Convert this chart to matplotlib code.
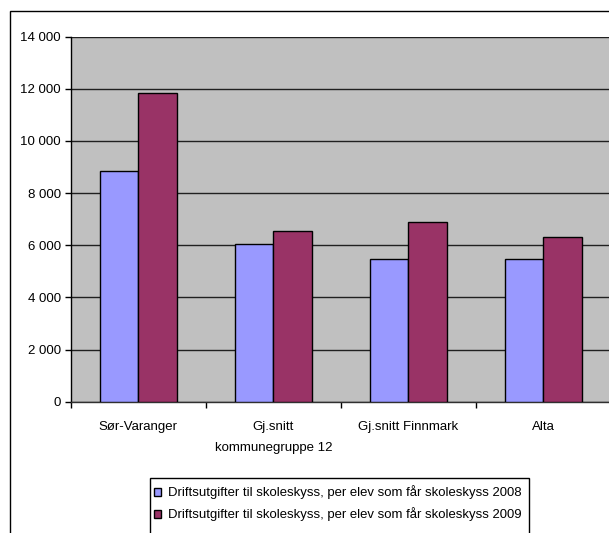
import numpy as np
import matplotlib
matplotlib.use('Agg')
import matplotlib.pyplot as plt
from matplotlib.patches import Rectangle
from matplotlib.ticker import FuncFormatter

plt.rcParams['font.family'] = ['Liberation Sans', 'DejaVu Sans']

# data
categories = ['Sør-Varanger', 'Gj.snitt\nkommunegruppe 12', 'Gj.snitt Finnmark', 'Alta']
vals_2008 = [8850, 6060, 5490, 5480]
vals_2009 = [11850, 6560, 6910, 6320]
series_labels = ['Driftsutgifter til skoleskyss, per elev som får skoleskyss 2008',
                 'Driftsutgifter til skoleskyss, per elev som får skoleskyss 2009']

fig = plt.figure(figsize=(6.09, 5.33), dpi=100)
W, H = 609, 533

# outer chart border (cut off at right/bottom like the original)
border = Rectangle((10 / W, -0.05), 1.1, (H - 11) / H + 0.05, transform=fig.transFigure,
                   fill=False, edgecolor='black', linewidth=1.0, clip_on=False)
fig.patches.append(border)

ax = fig.add_axes([70.8 / W, (H - 401.7) / H, 540 / W, 365 / H])
ax.set_facecolor('#C0C0C0')

x = np.arange(len(categories))
bw = 1 / 3.5
ax.bar(x - bw / 2, vals_2008, bw, color='#9999FF', edgecolor='black', linewidth=1.0,
       label=series_labels[0], zorder=3)
ax.bar(x + bw / 2, vals_2009, bw, color='#993366', edgecolor='black', linewidth=1.0,
       label=series_labels[1], zorder=3)

ax.set_xlim(-0.5, len(categories) - 0.5)
ax.set_ylim(0, 14000)
ax.set_yticks(np.arange(0, 14001, 2000))
ax.yaxis.set_major_formatter(FuncFormatter(lambda v, p: f'{int(v):,}'.replace(',', ' ')))
ax.grid(axis='y', color='#202020', linewidth=1.0, zorder=1)

ax.set_xticks(x)
ax.set_xticklabels(categories, linespacing=1.95)
ax.set_xticks(np.arange(-0.5, len(categories) + 0.5, 1), minor=True)
ax.tick_params(axis='x', which='major', length=0, pad=14, labelsize=9.5)
ax.tick_params(axis='x', which='minor', length=4, width=1, direction='out')
ax.tick_params(axis='y', length=4, width=1, direction='out', pad=3, labelsize=9.5)

for s in ['top', 'right']:
    ax.spines[s].set_visible(False)
ax.spines['left'].set_color('black')
ax.spines['bottom'].set_color('#303030')
ax.spines['left'].set_linewidth(1.0)
ax.spines['bottom'].set_linewidth(1.0)

# legend box runs off the bottom edge in the original
legbox = Rectangle((150 / W, -0.05), (529 - 150) / W, (H - 477.7) / H + 0.05,
                   transform=fig.transFigure, facecolor='white', edgecolor='black',
                   linewidth=1.0, clip_on=False)
fig.patches.append(legbox)
leg = fig.legend(loc='upper left', bbox_to_anchor=(146 / W, (H - 477.7) / H),
                 frameon=False, fontsize=9.45,
                 handlelength=0.55, handleheight=0.55, handletextpad=0.55,
                 labelspacing=0.6, borderpad=0.6, borderaxespad=0)

fig.savefig('out.png', dpi=100)
